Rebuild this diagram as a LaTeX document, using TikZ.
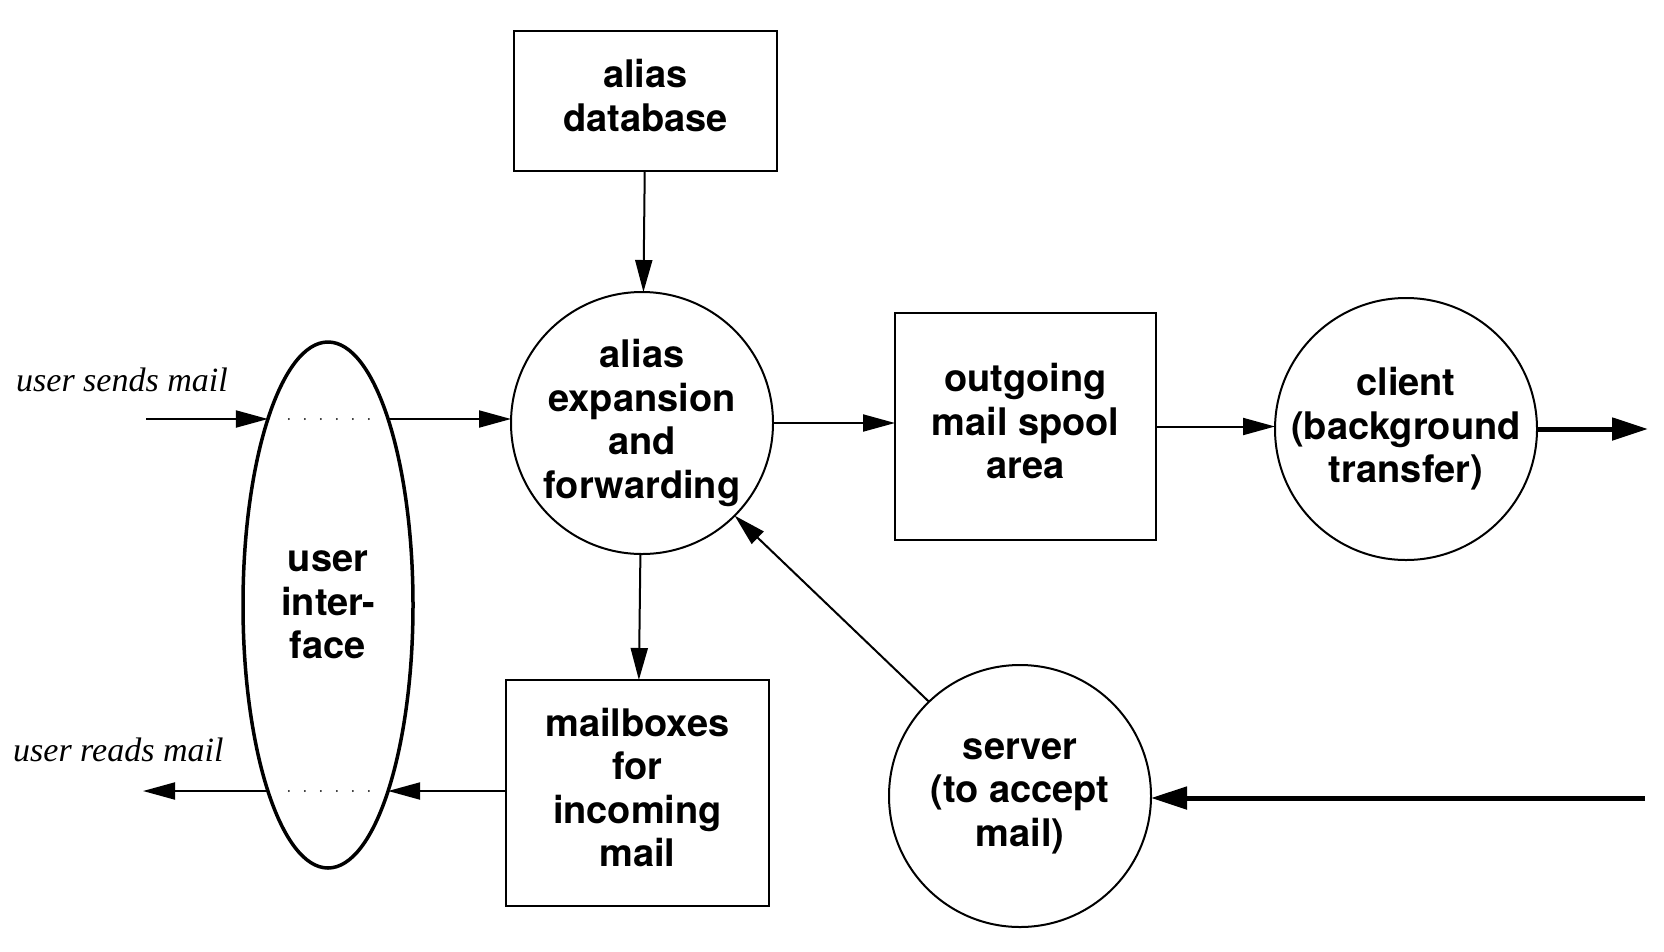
\documentclass[tikz,border=0pt]{standalone}
\usepackage{fontspec}
\setmainfont{TeX Gyre Heros}
\newfontfamily\lblfont{Liberation Serif}
\usetikzlibrary{arrows.meta,shapes.geometric,calc}
\newcommand{\liftedlines}[2]{\raisebox{#1}{\begin{tabular}{@{}c@{}}#2\end{tabular}}}
\tikzset{
  base/.style={draw, line width=2pt, inner sep=0pt, outer sep=0pt, align=center,
    font=\fontsize{38}{43.5}\selectfont\bfseries},
  boxnode/.style={base, rectangle, minimum width=#1},
  proc/.style={base, circle, minimum size=262pt},
  arr/.style={line width=2pt, -{Triangle[length=32pt,width=17pt]}},
  bigarr/.style={line width=5pt, -{Triangle[length=36pt,width=22pt]}},
  dots/.style={line width=2pt, line cap=round, dash pattern=on 0pt off 16pt},
  lbl/.style={inner sep=0pt, font=\fontsize{34}{38}\selectfont\lblfont\itshape}
}
\begin{document}
\begin{tikzpicture}[x=1pt,y=-1pt]
\useasboundingbox[fill=white] (0,0) rectangle (1664,951);

% processes and stores
\node[boxnode=263pt, minimum height=140pt] (db) at (645.5,101) {\liftedlines{6pt}{alias\\database}};
\node[proc] (alias) at (642,423) {alias\\expansion\\and\\forwarding};
\node[boxnode=261pt, minimum height=227pt] (spool) at (1025.5,426.5) {\liftedlines{4pt}{outgoing\\mail spool\\area}};
\node[proc] (client) at (1406,429) {client\\(background\\transfer)};
\node[boxnode=263pt, minimum height=226pt] (mbox) at (637.5,793) {\liftedlines{4pt}{mailboxes\\for\\incoming\\mail}};
\node[proc] (server) at (1020,796) {server\\(to accept\\mail)};
\node[base, ellipse, line width=3.5pt, minimum width=170pt, minimum height=526pt] (ui) at (328,605) {user\\inter-\\face};

% points where the send and read lines cross the ellipse
\coordinate (uiSW) at ($(ui.center)+(-60.1,-186)$);
\coordinate (uiSE) at ($(ui.center)+(60.1,-186)$);
\coordinate (uiRW) at ($(ui.center)+(-60.1,186)$);
\coordinate (uiRE) at ($(ui.center)+(60.1,186)$);

% free ends
\coordinate (sendin) at (146,419);
\coordinate (readout) at (143,791);
\coordinate (netout) at (1648,431);
\coordinate (netin) at (1645,798);

% labels
\node[lbl, anchor=base west] (sendlbl) at (16,391) {user sends mail};
\node[lbl, anchor=base west] (readlbl) at (13,761) {user reads mail};

% outgoing path
\draw[arr] (sendin) -- (uiSW);
\draw[dots] ([xshift=21pt]uiSW) -- ([xshift=-14pt]uiSE);
\draw[arr] (uiSE) -- (uiSE -| alias.west);
\draw[arr] (db) -- (alias);
\draw[arr] (alias.east) -- (alias.east -| spool.west);
\draw[arr] (spool.east) -- (spool.east -| client.west);
\draw[bigarr] (client.east) -- (client.east -| netout);

% incoming path
\draw[bigarr] (netin) -- (netin -| server.east);
\draw[arr] (server.134) -- (alias.-45);
\draw[arr] (alias) -- (mbox);
\draw[arr] (mbox.west |- uiRE) -- (uiRE);
\draw[dots] ([xshift=21pt]uiRW) -- ([xshift=-14pt]uiRE);
\draw[arr] (uiRW) -- (readout);
\end{tikzpicture}
\end{document}
